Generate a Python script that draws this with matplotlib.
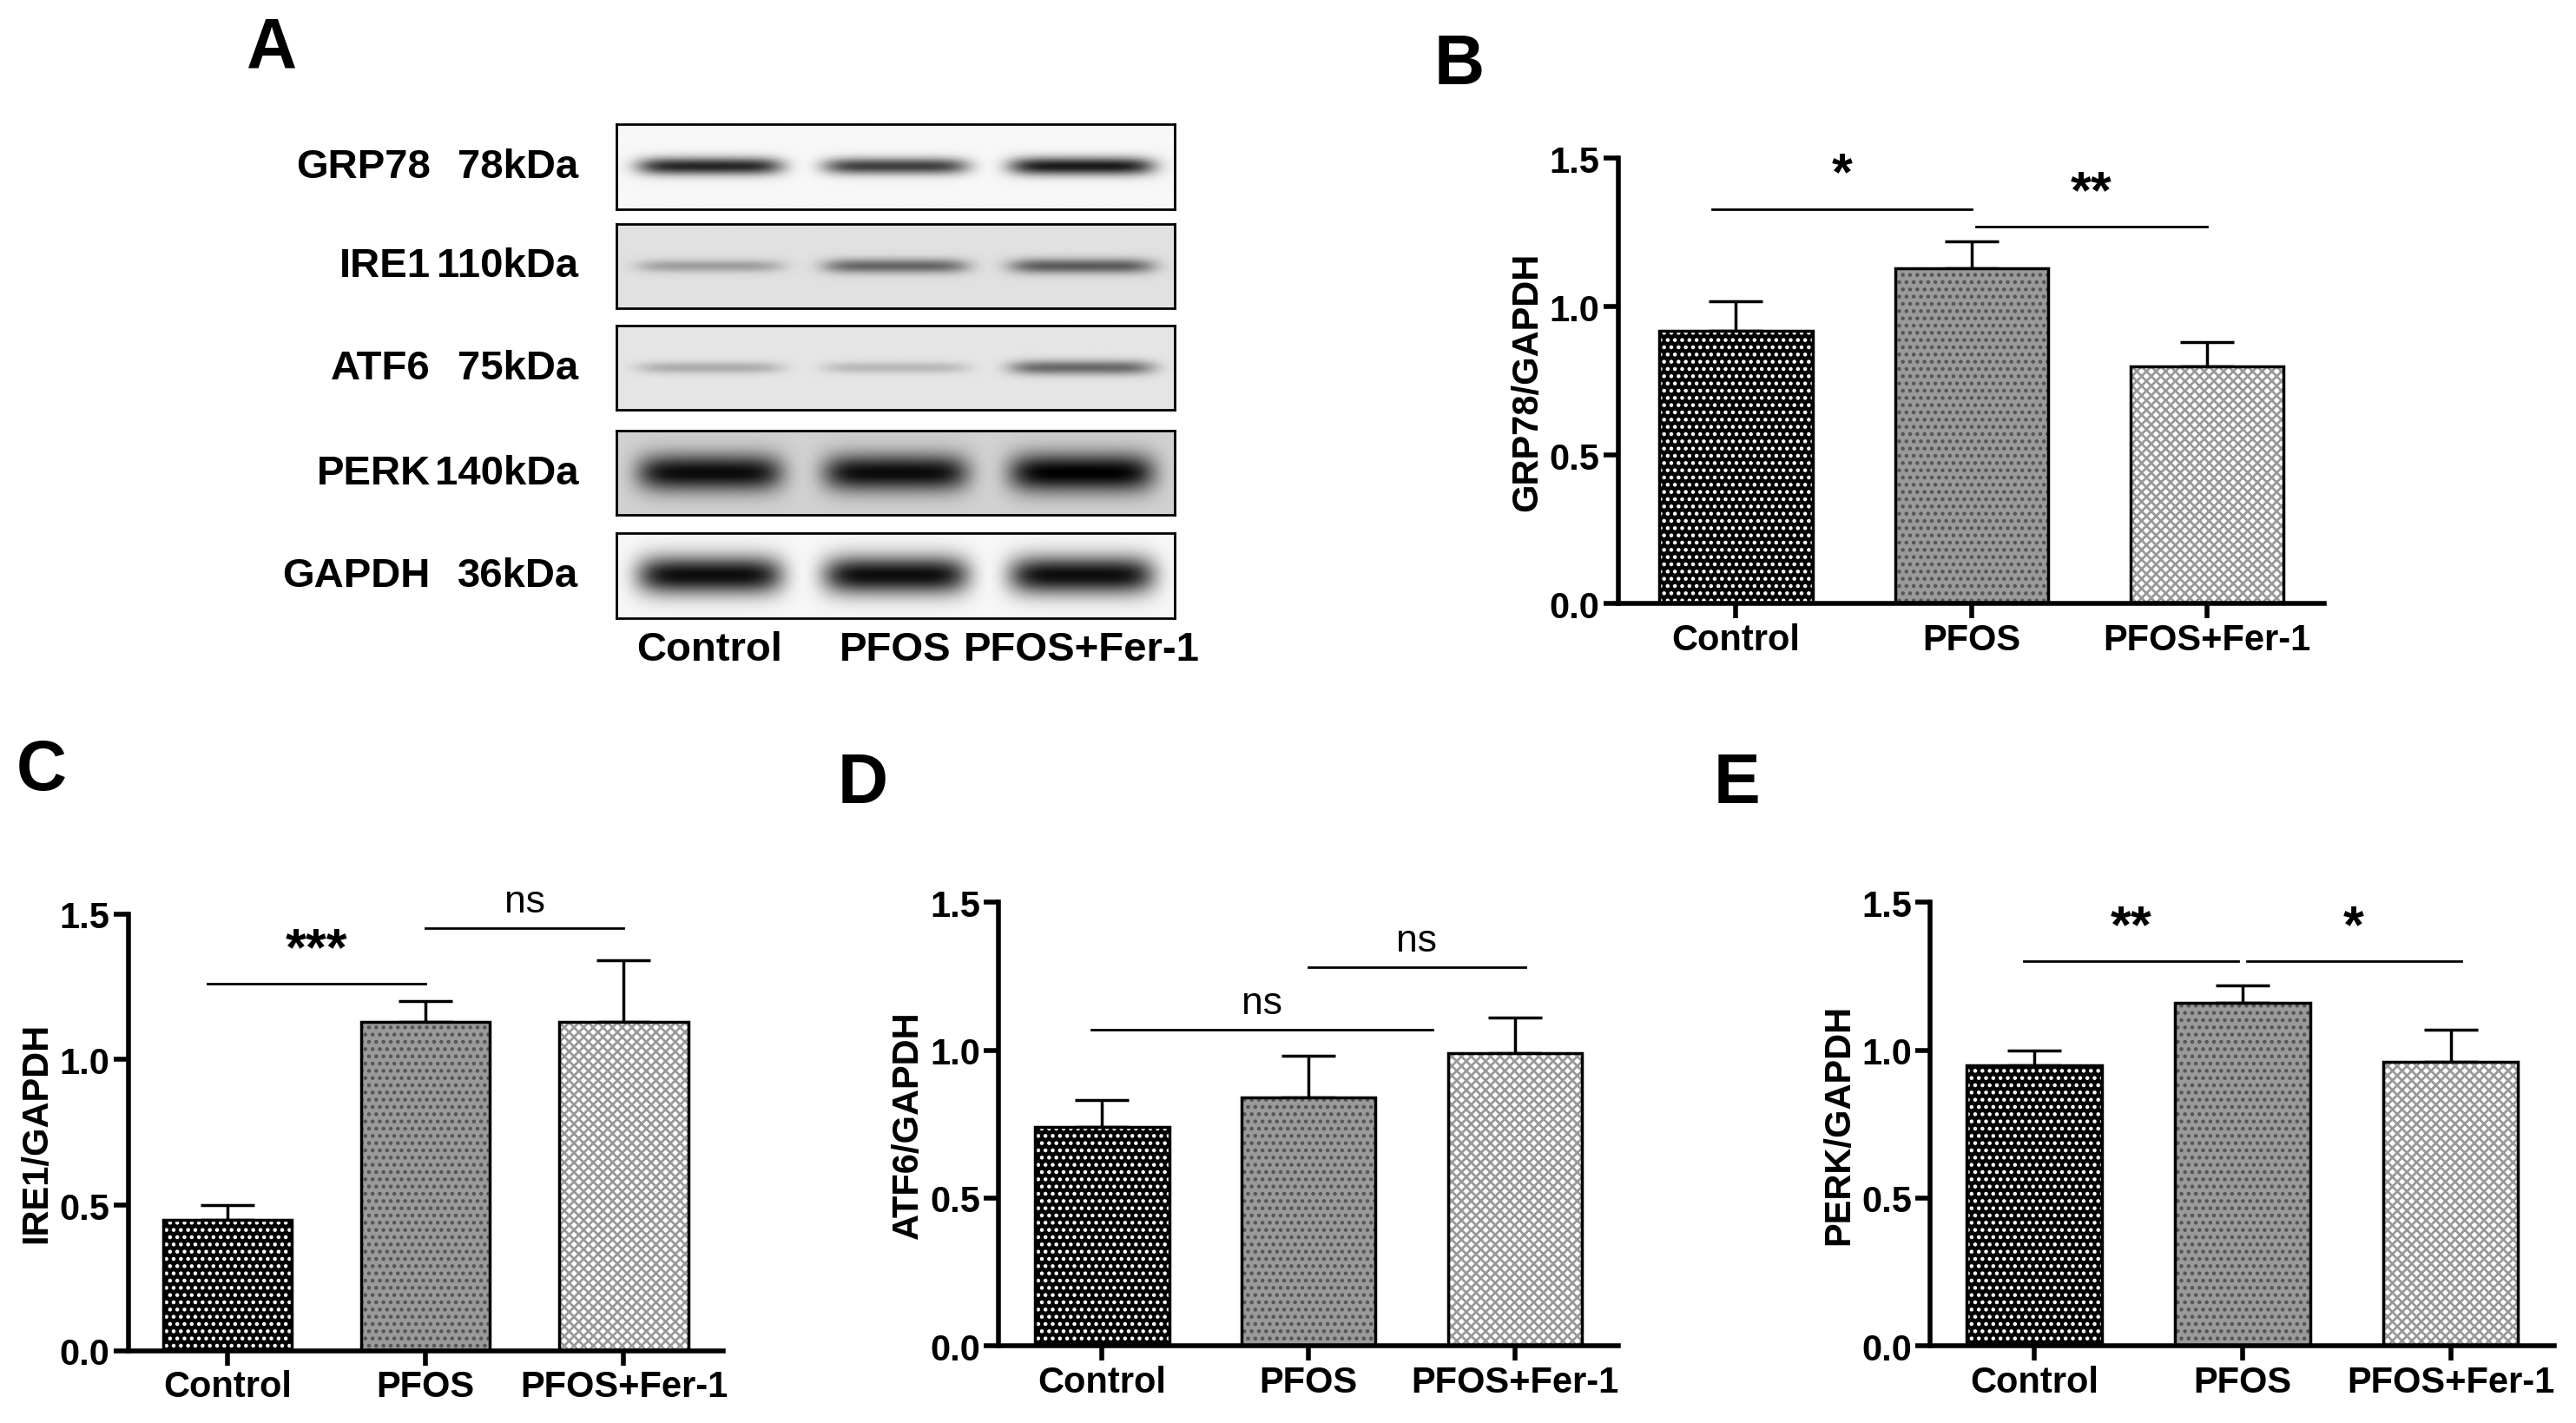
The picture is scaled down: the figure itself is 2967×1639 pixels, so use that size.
import matplotlib
matplotlib.use('agg')
import matplotlib.pyplot as plt
import numpy as np

plt.rcParams['font.family'] = ['Liberation Sans', 'DejaVu Sans']
plt.rcParams['font.weight'] = 'bold'
plt.rcParams['hatch.linewidth'] = 2.0

groups = ["Control", "PFOS", "PFOS+Fer-1"]
proteins = ["GRP78", "IRE1", "ATF6", "PERK", "GAPDH"]
weights = ["78kDa", "110kDa", "75kDa", "140kDa", "36kDa"]
# relative band darkness per lane (0..1)
band_dark = [[0.85, 0.75, 0.9], [0.3, 0.55, 0.6], [0.25, 0.2, 0.55],
             [0.95, 0.95, 1.0], [0.95, 0.95, 0.95]]
band_bg = [0.97, 0.88, 0.9, 0.82, 0.97]

grp78_mean = [0.92, 1.13, 0.80]
grp78_err = [0.10, 0.09, 0.08]
ire1_mean = [0.45, 1.13, 1.13]
ire1_err = [0.05, 0.07, 0.21]
atf6_mean = [0.74, 0.84, 0.99]
atf6_err = [0.09, 0.14, 0.12]
perk_mean = [0.95, 1.16, 0.96]
perk_err = [0.05, 0.06, 0.11]

fig = plt.figure(figsize=(29.67, 16.40), dpi=100)
W, H = 1568.0, 867.0


def rect(x0, y0, x1, y1):
    return [x0 / W, 1 - y1 / H, (x1 - x0) / W, (y1 - y0) / H]


def label(x, y, s):
    fig.text(x / W, 1 - y / H, s, fontsize=58, fontweight='bold', va='center', ha='left')


# ---- Panel A: blots
label(150, 30, "A")
rows_y = [(76, 128), (137, 188), (199, 250), (263, 314), (325, 377)]
xs = np.linspace(0, 1, 340)
for i, (y0, y1) in enumerate(rows_y):
    ax = fig.add_axes(rect(375, y0, 715, y1))
    yy = np.linspace(-1, 1, 60)[:, None]
    img = np.zeros((60, 340))
    for j, d in enumerate(band_dark[i]):
        cx = (j + 0.5) / 3
        thick = 0.12 + 0.35 * d if i >= 3 else 0.12 + 0.1 * d
        prof_x = np.exp(-((xs - cx) / 0.13) ** 6)
        prof_y = np.exp(-(yy / thick) ** 2)
        img = np.maximum(img, d * prof_x[None, :] * prof_y)
    shade = band_bg[i] - img * band_bg[i]
    ax.imshow(shade, cmap='gray', vmin=0, vmax=1, aspect='auto')
    ax.set_xticks([])
    ax.set_yticks([])
    for s in ax.spines.values():
        s.set_linewidth(2)
    yc = 1 - (y0 + y1) / 2 / H
    fig.text(262 / W, yc, proteins[i], fontsize=34, ha='right', va='center')
    fig.text(352 / W, yc, weights[i], fontsize=34, ha='right', va='center')
for j, g in enumerate(groups):
    fig.text((375 + 340 * (j + 0.5) / 3) / W, 1 - 396 / H, g, fontsize=34, ha='center', va='center')


def bar_panel(r, mean, err, ylab, sigs):
    ax = fig.add_axes(rect(*r))
    x = np.arange(3)
    styles = [dict(color='black', edgecolor='white', hatch='..'),
              dict(color='#9a9a9a', edgecolor='#555555', hatch='..'),
              dict(color='white', edgecolor='#999999', hatch='xxx')]
    for k in range(3):
        ax.bar(x[k], mean[k], width=0.65, facecolor=styles[k]['color'],
               edgecolor=styles[k]['edgecolor'], hatch=styles[k]['hatch'], linewidth=0, zorder=2)
        ax.bar(x[k], mean[k], width=0.65, facecolor='none', edgecolor='black', linewidth=2.5, zorder=3)
        ax.errorbar(x[k], mean[k], yerr=[[0], [err[k]]], color='black', capsize=22,
                    elinewidth=2.5, capthick=2.5, zorder=1)
    for (a, b, h, s) in sigs:
        ax.plot([a, b], [h, h], color='black', lw=2)
        ax.text((a + b) / 2, h + 0.03, s, ha='center', va='bottom',
                fontsize=44 if s != 'ns' else 32, fontweight='bold' if s != 'ns' else 'normal')
    ax.set_xlim(-0.5, 2.5)
    ax.set_ylim(0, 1.5)
    ax.set_yticks([0, 0.5, 1.0, 1.5])
    ax.set_yticklabels(["0.0", "0.5", "1.0", "1.5"])
    ax.set_xticks(x)
    ax.set_xticklabels(groups)
    ax.tick_params(labelsize=30, width=4, length=12)
    ax.spines['top'].set_visible(False)
    ax.spines['right'].set_visible(False)
    ax.spines['left'].set_linewidth(4)
    ax.spines['bottom'].set_linewidth(4)
    ax.set_ylabel(ylab, fontsize=30, fontweight='bold')
    return ax


label(873, 40, "B")
bar_panel((985, 97, 1415, 368), grp78_mean, grp78_err, "GRP78/GAPDH",
          [(-0.1, 1.0, 1.33, '*'), (1.02, 2.0, 1.27, '**')])
label(10, 470, "C")
bar_panel((78, 557, 440, 823), ire1_mean, ire1_err, "IRE1/GAPDH",
          [(-0.1, 1.0, 1.26, '***'), (1.0, 2.0, 1.45, 'ns')])
label(510, 478, "D")
bar_panel((608, 550, 985, 820), atf6_mean, atf6_err, "ATF6/GAPDH",
          [(-0.05, 1.6, 1.07, 'ns'), (1.0, 2.05, 1.28, 'ns')])
label(1043, 478, "E")
bar_panel((1175, 550, 1555, 820), perk_mean, perk_err, "PERK/GAPDH",
          [(-0.05, 0.98, 1.30, '**'), (1.02, 2.05, 1.30, '*')])

fig.savefig('out.png', dpi=100, facecolor='white')
